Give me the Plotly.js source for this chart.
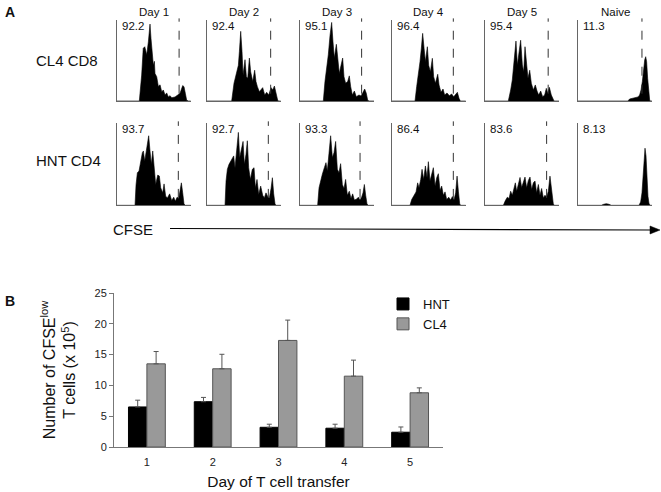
<!DOCTYPE html>
<html><head><meta charset="utf-8">
<script src="https://cdn.plot.ly/plotly-3.0.1.min.js"></script>
<style>html,body{margin:0;padding:0;background:#fff}#chart{width:661px;height:492px}</style>
</head><body><div id="chart"></div>
<script>
// ---------- Panel A: labels ----------
const dayLabels = ["Day 1","Day 2","Day 3","Day 4","Day 5","Naive"];
const rowLabels = ["CL4 CD8","HNT CD4"];
const cl4Percent = ["92.2","92.4","95.1","96.4","95.4","11.3"];
const hntPercent = ["93.7","92.7","93.3","86.4","83.6","8.13"];
const cfseLabel = "CFSE";
// gate positions (CFSE channel, 0-100); null = no gate drawn
const cl4Gate = [80,82,79,79,81,82];
const hntGate = [79,79,77,79,79,null];

// ---------- Panel A: CFSE histograms (CFSE channel 0-100, relative count 0-100) ----------
const cl4D1X = [0,29,32,34,36,38.5,40.6,42.7,44,45,46,47,48.3,49.1,51.3,53.4,55.6,57.7,59.8,62,64.1,66.2,68.4,70.5,74.8,79,81.2,84.6,86.3,88,89.7,92,100];
const cl4D1Y = [0,0,32,65,67,57,73,95,77,65,61,44,49,34,30,18,20,11.5,13.6,7.4,10,5,6.6,4,5,8,9.5,19,17.7,9.5,1,0,0];
const cl4D2X = [0,32,35,37.6,40.6,41.9,43.6,45.3,46.6,49.1,50.9,52.6,54.7,56.4,59,61.5,63.2,65,67.5,71.8,74.4,76.9,79.5,82.5,84.6,86.8,88.9,91,92.3,100];
const cl4D2Y = [0,0,22,32,44,61,86,61,32,51,30,28,53,36,24,38,24,17.7,11.5,16.5,7.4,10.7,7.4,16.5,13.6,18.5,9.5,1,0,0];
const cl4D3X = [0,29.9,32,34.2,36.3,38.5,40.6,42.3,44,46.6,48.3,50.4,52.6,54.7,56.4,58.5,61.1,63.2,65,67.1,69.7,72.2,75.6,78.2,80.8,82.9,85,86.8,88.5,100];
const cl4D3Y = [0,0,24,40,57,81,97,73,53,70,49,34,44,53,30,22,24,31,17.7,7.4,12.3,5.3,7.4,6.2,10.7,14.8,9.5,1,0,0];
const cl4D4X = [0,29.9,32,34.2,36.3,38,39.7,41.5,43.2,45.7,47.4,49.6,52.1,53.8,56,59,60.7,63.2,65.8,67.9,70.9,73.9,76.9,79.5,82,84.2,86.3,88,100];
const cl4D4Y = [0,0,17.7,32,48.6,65,83.5,65,48.6,67,44,36,52.7,30,21.8,33,19.8,10.7,14.8,7.4,9.9,6.6,8.6,5.3,8.2,10.7,3.3,0,0];
const cl4D5X = [0,29.9,32.9,35,36.8,38,39.7,41.5,43.6,45.7,47.9,49.6,51.3,53.4,55.1,57.3,59.4,62,64.5,66.7,68.8,71.4,73.9,76.5,78.6,80.3,82.5,85,87.2,88.5,100];
const cl4D5Y = [0,0,13.6,26,44.4,61,74,44.4,61,75,44.4,36,67,44.4,28,38,21.8,13.6,19.8,12.3,7.4,12.3,5.3,7.4,15.6,9.5,16.9,7.4,1,0,0];
const cl4NaiveX = [0,64,66.2,72.6,77,79,80.8,82.5,84.2,85.5,86.8,88,89.3,90.6,91.9,93.2,100];
const cl4NaiveY = [0,0,2.5,3.7,5,7.4,13.6,24,44,50.6,54.7,48.6,28,7.4,1,0,0];

const hntD1X = [0,23.5,24.8,26.5,28.6,30.8,32.9,34.2,35.9,37.6,39.3,41,42.7,44.4,46.2,47.9,50,52.6,54.7,56.4,59,60.7,62.8,65,67.9,70.5,73.1,75.2,77.4,79.5,81.2,82.9,84.6,86.3,88,100];
const hntD1Y = [0,0,25,39.6,41.6,53.9,64,66,53.9,64,74.3,84.5,66,49.8,66,45.7,25.3,36.7,35.5,21.2,15.1,26,11,9,13.9,5.7,9.8,4.9,9.8,8.2,16.3,27.3,15.1,1.6,0,0];
const hntD2X = [0,23.5,24.8,26.5,28.6,30.8,32.9,34.6,36.3,38.5,40.6,42.3,44.4,46.6,48.3,50.4,52.1,53.8,56,58.5,60.7,62.4,64.5,66.7,69.2,71.8,73.9,76,78.2,80.3,82.5,84.2,85.9,87.6,88.9,100];
const hntD2Y = [0,0,29.4,43.7,49.8,53.9,58.8,60,45.7,68.2,88.6,58,66,77.6,49.8,62,78.4,45.7,31.4,43.7,45.7,21.2,31.4,13,23.3,12.2,9,15.1,10.6,9,20.4,33.5,13.9,1.6,0,0];
const hntD3X = [0,22.6,24.4,26.5,28.6,31.2,33.3,35,37.2,39.3,41.5,43.6,45.7,47.9,50,52.1,54.3,56.4,58.5,60.7,63.2,65.4,67.5,69.7,72.2,74.8,76.9,79,80.8,82.5,84.2,85.9,87.6,100];
const hntD3Y = [0,0,21.2,31.4,37.6,45.7,51.8,41.6,66,84.5,58,64,77.6,43.7,39.6,50.6,25.3,20.4,31.4,12.2,17.1,8.2,13.9,6.5,7.3,9.8,6.5,9.8,15.1,25.3,12.2,1.6,0,0];
const hntD4X = [0,23.5,25.6,28.6,31.2,33.3,35,37.2,38.9,41,43.2,45.3,47,49.1,51.3,53.4,55.6,57.7,59.8,62,64.1,66.2,68.4,70.5,73.1,75.6,77.8,79.9,82,83.8,85.5,87.2,88.5,100];
const hntD4Y = [0,0,6.9,12.2,16.3,27.3,21.2,31.4,43.7,31.4,47.8,33.5,53,29.4,39.6,45.7,23.3,33.5,38.4,18,23.3,12.2,16.3,6.9,9.8,6.5,10.6,6.5,15.1,35.5,17.1,1.6,0,0];
const hntD5X = [0,23.5,26.1,28.6,30.8,32.9,35,37.2,38.9,40.6,42.7,44.9,47,49.1,51.3,53.4,55.6,57.7,59.8,62,64.1,66.2,68.4,70.5,72.6,74.8,76.9,79,81.2,83.3,85.5,87.6,88.9,100];
const hntD5Y = [0,0,5.7,9.8,8.2,17.1,12.2,21.2,27.3,17.1,27.3,33.9,21.6,29.4,34.3,21.2,30.2,34.3,19.2,27.3,29.4,15.1,25.3,12.2,20.4,9,12.2,9.8,17.1,35.5,15.1,1.6,0,0];
const hntNaiveX = [0,29.9,32.9,36.3,39.7,42.7,78.2,80.3,82,83.3,84.6,85.9,87.2,88.5,89.7,91,92.3,100];
const hntNaiveY = [0,0,1.2,2,1.2,0,0,4,15,37.6,60,69.4,60,33.5,11,2.4,0,0];

// ---------- Panel B: bar chart ----------
const barDays = ["1","2","3","4","5"];
const seriesNames = ["HNT","CL4"];
const hntCells = [6.5,7.35,3.2,3.05,2.4];
const hntErr = [1.1,0.7,0.5,0.65,0.85];
const cl4Cells = [13.5,12.7,17.3,11.5,8.8];
const cl4Err = [2.0,2.35,3.3,2.6,0.8];

// ---------- build ----------
const W = 661, H = 492;
const FONT = "Liberation Sans, Arial, sans-serif";
const panelLeft = [116.7,206.7,300,391.7,485,578];
const pxPerUnit = 0.78;      // px per CFSE unit
const panelW = 74;           // drawn axis width in px
const rowTop = [20,123], rowBottom = [101,205.3];
const histX = [[cl4D1X,cl4D2X,cl4D3X,cl4D4X,cl4D5X,cl4NaiveX],[hntD1X,hntD2X,hntD3X,hntD4X,hntD5X,hntNaiveX]];
const histY = [[cl4D1Y,cl4D2Y,cl4D3Y,cl4D4Y,cl4D5Y,cl4NaiveY],[hntD1Y,hntD2Y,hntD3Y,hntD4Y,hntD5Y,hntNaiveY]];
const percents = [cl4Percent, hntPercent];
const gates = [cl4Gate, hntGate];

const traces = [];
const layout = {
  width: W, height: H,
  margin: {l:0, r:0, t:0, b:0},
  paper_bgcolor: "#fff", plot_bgcolor: "rgba(0,0,0,0)",
  font: {family: FONT, color: "#111"},
  showlegend: true,
  annotations: [], shapes: [],
  bargap: 0.44, bargroupgap: 0
};

for (let r = 0; r < 2; r++) {
  for (let c = 0; c < 6; c++) {
    const idx = r*6 + c + 2;
    const xa = "x"+idx, ya = "y"+idx;
    traces.push({
      type: "scatter", mode: "lines", x: histX[r][c], y: histY[r][c],
      xaxis: xa, yaxis: ya, fill: "tozeroy", fillcolor: "#000",
      line: {color: "#000", width: 0.6}, showlegend: false, hoverinfo: "skip"
    });
    const ax = {showline:true, linecolor:"#666", linewidth:1, showticklabels:false,
      ticks:"", showgrid:false, zeroline:false, fixedrange:true};
    layout["xaxis"+idx] = Object.assign({}, ax, {domain:[panelLeft[c]/W, (panelLeft[c]+panelW)/W], anchor: ya, range:[0, panelW/pxPerUnit]});
    layout["yaxis"+idx] = Object.assign({}, ax, {domain:[1-rowBottom[r]/H, 1-rowTop[r]/H], anchor: xa, range:[0,100]});
    layout.annotations.push({
      xref: xa+" domain", yref: ya+" domain", x: 0.04, y: 1, xanchor:"left", yanchor:"top",
      yshift: 2, text: percents[r][c], showarrow:false, font:{size:11.5, color:"#111"}
    });
    if (r === 0) {
      layout.annotations.push({
        xref: xa+" domain", yref: ya+" domain", x: 0.5, y: 1, xanchor:"center", yanchor:"bottom",
        yshift: 0, text: dayLabels[c], showarrow:false, font:{size:11.5, color:"#111"}
      });
    }
    if (gates[r][c] !== null) {
      layout.shapes.push({
        type:"line", xref: xa, yref: ya+" domain", x0: gates[r][c], x1: gates[r][c],
        y0: 0.09, y1: 1.02, line:{color:"#333", width:1, dash:"dash"}
      });
    }
  }
}

// Panel A row labels, letters
layout.annotations.push(
  {xref:"paper", yref:"paper", x:3/W, y:1-2/H, xanchor:"left", yanchor:"top", text:"<b>A</b>", showarrow:false, font:{size:14}},
  {xref:"paper", yref:"paper", x:3/W, y:1-291/H, xanchor:"left", yanchor:"top", text:"<b>B</b>", showarrow:false, font:{size:14}},
  {xref:"paper", yref:"paper", x:34/W, y:1-60/H, xanchor:"left", yanchor:"middle", text:rowLabels[0], showarrow:false, font:{size:15}},
  {xref:"paper", yref:"paper", x:34/W, y:1-160/H, xanchor:"left", yanchor:"middle", text:rowLabels[1], showarrow:false, font:{size:15}},
  {xref:"paper", yref:"paper", x:111/W, y:1-229/H, xanchor:"left", yanchor:"middle", text:cfseLabel, showarrow:false, font:{size:15}}
);
// CFSE arrow: line + filled head
layout.shapes.push(
  {type:"line", xref:"paper", yref:"paper", x0:170/W, y0:1-228.5/H, x1:652/W, y1:1-230/H, line:{color:"#000", width:1.2}},
  {type:"path", xref:"paper", yref:"paper",
   path:"M"+(650/W)+","+(1-226/H)+" L"+(660/W)+","+(1-230/H)+" L"+(650/W)+","+(1-234/H)+" Z",
   fillcolor:"#000", line:{color:"#000", width:0.5}}
);

// Panel B bars
traces.push({
  type:"bar", x: barDays, y: hntCells, name: seriesNames[0], legendgroup:"g1",
  marker:{color:"#000", line:{color:"#000", width:1}},
  error_y:{type:"data", symmetric:false, array:hntErr, arrayminus:hntErr.map(()=>0), color:"#555", thickness:1, width:2.5},
  xaxis:"x", yaxis:"y", hoverinfo:"skip"
});
traces.push({
  type:"bar", x: barDays, y: cl4Cells, name: seriesNames[1], legendgroup:"g2",
  marker:{color:"#999", line:{color:"#555", width:1}},
  error_y:{type:"data", symmetric:false, array:cl4Err, arrayminus:cl4Err.map(()=>0), color:"#555", thickness:1, width:2.5},
  xaxis:"x", yaxis:"y", hoverinfo:"skip"
});

layout.xaxis = {
  domain:[114/W, 443/W], anchor:"y", type:"category", showline:true, linecolor:"#777", linewidth:1,
  ticks:"", showgrid:false, zeroline:false, tickfont:{size:11, color:"#222"}, ticklabelstandoff:5,
  title:{text:"Day of T cell transfer", font:{size:15.5, color:"#111"}, standoff:8}
};
layout.yaxis = {
  domain:[1-447/H, 1-293/H], anchor:"x", range:[0,25], dtick:5, ticks:"outside", ticklen:4,
  tickcolor:"#777", showline:true, linecolor:"#777", linewidth:1, showgrid:false, zeroline:false,
  tickfont:{size:11, color:"#222"},
  title:{text:"Number of CFSE<sup>low</sup><br>T cells (x 10<sup>5</sup>)", font:{size:16, color:"#111"}, standoff:14}
};
layout.legend = {
  x: 383/W, y: 1-289/H, xanchor:"left", yanchor:"top", bgcolor:"rgba(0,0,0,0)",
  font:{size:13, color:"#111"}, tracegroupgap: 11, traceorder:"normal", itemwidth:30
};

Plotly.newPlot("chart", traces, layout, {staticPlot:true, displayModeBar:false});
</script></body></html>
